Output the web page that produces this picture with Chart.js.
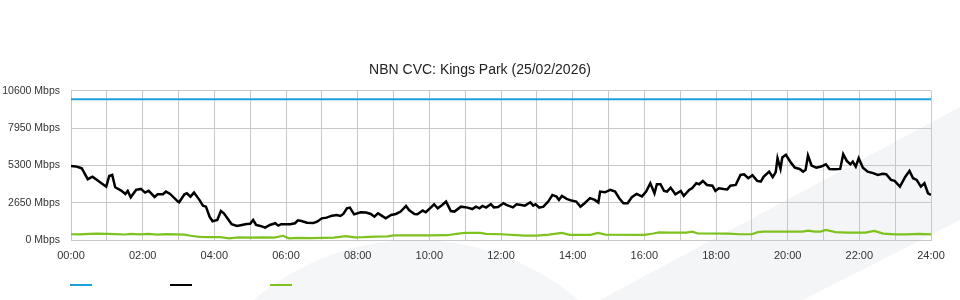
<!DOCTYPE html>
<html>
<head>
<meta charset="utf-8">
<script src="https://cdn.jsdelivr.net/npm/chart.js@4.4.1/dist/chart.umd.min.js"></script>
<style>
  html, body { margin: 0; padding: 0; background: #fff; }
  #wrap { position: relative; width: 960px; height: 300px; overflow: hidden; }
  #swoosh { position: absolute; left: 0; top: 0; width: 960px; height: 300px; background: #f4f5f7;
    clip-path: polygon(600px 300px, 960px 107px, 960px 220px, 803px 300px); }
  #blob { position: absolute; left: 166px; top: 240px; width: 500px; height: 500px; border-radius: 50%; background: #f5f6f8; }
  canvas { position: absolute; left: 0; top: 0; }
</style>
</head>
<body>
<div id="wrap">
  <div id="blob"></div>
  <div id="swoosh"></div>
  <canvas id="cvcChart" width="960" height="300"></canvas>
</div>
<script>
const chartTitle = 'NBN CVC: Kings Park (25/02/2026)';
const yTickValues = [0, 2650, 5300, 7950, 10600];
const xTickLabels = ['00:00', '02:00', '04:00', '06:00', '08:00', '10:00', '12:00',
  '14:00', '16:00', '18:00', '20:00', '22:00', '24:00'];

// minutes after midnight / Mbps
const capacityTimes = [0, 1440];
const capacityValues = [10000, 10000];

const trafficTimes = [0, 8, 14, 18, 28, 36, 47, 59, 64, 69, 74, 84, 91, 95, 100, 109, 117, 124, 130, 140,
  145, 154, 159, 166, 179, 181, 190, 194, 200, 206, 215, 221, 226, 232, 237, 245, 251, 256, 264, 269,
  278, 286, 294, 300, 305, 310, 317, 325, 333, 342, 347, 352, 367, 375, 380, 386, 395, 406, 412, 420,
  428, 437, 445, 451, 456, 462, 467, 474, 485, 494, 502, 508, 514, 520, 527, 536, 544, 552, 561, 566,
  575, 580, 589, 594, 601, 608, 614, 621, 628, 636, 642, 653, 664, 672, 678, 684, 689, 695, 703, 708,
  715, 724, 729, 740, 746, 754, 760, 769, 774, 778, 784, 791, 799, 806, 813, 817, 822, 830, 838, 846,
  853, 860, 869, 877, 883, 886, 894, 903, 911, 918, 925, 932, 939, 947, 956, 963, 970, 977, 981, 987,
  993, 998, 1004, 1012, 1021, 1026, 1035, 1040, 1047, 1052, 1058, 1065, 1074, 1079, 1085, 1093, 1099, 1104, 1113, 1121,
  1127, 1134, 1141, 1149, 1155, 1160, 1169, 1175, 1180, 1183, 1188, 1191, 1197, 1206, 1212, 1220, 1226, 1230, 1234, 1240,
  1248, 1256, 1264, 1270, 1279, 1288, 1293, 1299, 1305, 1309, 1314, 1319, 1326, 1334, 1343, 1351, 1359, 1365, 1373, 1379,
  1388, 1397, 1404, 1410, 1416, 1423, 1429, 1435, 1440];
const trafficValues = [5260, 5230, 5150, 5100, 4320, 4500, 4150, 3790, 4550, 4620, 3750, 3510, 3270, 3490, 3040, 3560, 3630, 3370, 3490, 3060,
  3250, 3250, 3440, 3270, 2730, 2680, 3250, 3320, 3080, 3370, 2850, 2440, 2370, 1660, 1330, 1420, 2060, 1900, 1420, 1120,
  1000, 1070, 1140, 1150, 1420, 1070, 1000, 880, 1070, 1190, 1020, 1120, 1120, 1190, 1400, 1350, 1230, 1210, 1300, 1540,
  1590, 1730, 1780, 1710, 1850, 2250, 2300, 1820, 1970, 1950, 1850, 1660, 1900, 1730, 1540, 1780, 1850, 2020, 2420, 2130,
  1850, 1830, 2090, 1970, 2250, 2540, 2250, 2470, 2730, 2060, 2020, 2370, 2300, 2200, 2370, 2250, 2420, 2300, 2540, 2320,
  2350, 2610, 2490, 2320, 2540, 2490, 2440, 2680, 2440, 2540, 2300, 2370, 2730, 3200, 3080, 2850, 3130, 2920, 2800, 2730,
  2370, 2610, 2970, 2850, 2660, 3440, 3390, 3560, 3440, 2970, 2610, 2610, 3040, 3270, 3100, 3440, 4030, 3320, 3960, 3960,
  3490, 3440, 3720, 3250, 3490, 3130, 3560, 3680, 4030, 3960, 4200, 3910, 3860, 3490, 3680, 3630, 3600, 3860, 3910, 4620,
  4670, 4390, 4600, 4200, 4150, 4500, 4860, 4460, 4820, 5810, 5050, 5860, 6050, 5460, 5140, 5050, 4860, 4980, 6000, 5290,
  5140, 5220, 5380, 5050, 5030, 5050, 6100, 5620, 5380, 5570, 5220, 5810, 5140, 4860, 4750, 4620, 4700, 4670, 4270, 4200,
  3790, 4500, 4910, 4390, 4270, 3790, 4030, 3320, 3200];

const otherTimes = [0, 15, 30, 45, 60, 75, 90, 100, 115, 130, 145, 160, 175, 190, 200, 215, 230, 250, 265, 280,
  300, 320, 340, 355, 365, 380, 400, 420, 440, 460, 475, 490, 510, 530, 540, 560, 600, 630, 645, 660,
  685, 695, 720, 760, 780, 800, 822, 835, 870, 882, 895, 960, 975, 985, 1000, 1030, 1040, 1050, 1100, 1120,
  1140, 1150, 1160, 1200, 1225, 1234, 1245, 1255, 1264, 1280, 1300, 1330, 1345, 1360, 1380, 1400, 1420, 1440];
const otherValues = [410, 400, 440, 450, 430, 420, 390, 440, 400, 430, 380, 420, 400, 380, 300, 220, 200, 200, 120, 180,
  170, 180, 170, 300, 120, 150, 140, 150, 170, 270, 190, 200, 240, 260, 330, 330, 330, 340, 430, 500,
  500, 430, 410, 310, 310, 380, 500, 360, 360, 500, 380, 370, 460, 546, 520, 520, 593, 460, 450, 410,
  410, 560, 593, 600, 600, 670, 600, 600, 711, 560, 520, 520, 640, 450, 405, 400, 430, 405];

const capacityColor = '#1ea0dc';
const trafficColor = '#000000';
const otherColor = '#7dc21e';

function toPoints(times, values) {
  return times.map((t, i) => ({ x: t, y: values[i] }));
}

// legend swatch: a 22px line sitting at the right end of a wider transparent image
function legendSwatch(color) {
  const c = document.createElement('canvas');
  c.width = 81;
  c.height = 2;
  const g = c.getContext('2d');
  g.fillStyle = color;
  g.fillRect(58, 0, 22, 2);
  return c;
}

Chart.defaults.font.family = '"Liberation Sans", Arial, Helvetica, sans-serif';
Chart.defaults.color = '#333';

const ctx = document.getElementById('cvcChart').getContext('2d');
new Chart(ctx, {
  type: 'line',
  data: {
    datasets: [{
      label: 'Capacity',
      data: toPoints(capacityTimes, capacityValues),
      borderColor: capacityColor,
      borderWidth: 2,
      pointRadius: 0
    }, {
      label: 'Traffic',
      data: toPoints(trafficTimes, trafficValues),
      borderColor: trafficColor,
      borderWidth: 2.5,
      pointRadius: 0
    }, {
      label: 'Other',
      data: toPoints(otherTimes, otherValues),
      borderColor: otherColor,
      borderWidth: 2.2,
      pointRadius: 0
    }]
  },
  options: {
    responsive: false,
    animation: false,
    devicePixelRatio: 1,
    layout: { padding: 0 },
    plugins: {
      title: {
        display: true,
        text: chartTitle,
        color: '#222',
        font: { size: 14, weight: 'normal' },
        padding: { top: 62, bottom: 12 }
      },
      legend: {
        position: 'bottom',
        align: 'start',
        labels: {
          usePointStyle: true,
          pointStyleWidth: 85,
          font: { size: 10 },
          padding: 10,
          generateLabels: chart => chart.data.datasets.map((ds, i) => ({
            text: '',
            datasetIndex: i,
            pointStyle: legendSwatch(ds.borderColor),
            fillStyle: ds.borderColor,
            strokeStyle: ds.borderColor,
            lineWidth: 0,
            hidden: false
          }))
        }
      },
      tooltip: { enabled: false }
    },
    scales: {
      x: {
        type: 'linear',
        min: 0,
        max: 1440,
        afterBuildTicks: s => { s.ticks = Array.from({ length: 25 }, (_, h) => ({ value: h * 60 })); },
        afterFit: s => { s.height = 30; s.paddingRight = 29; },
        grid: { color: '#c8c8c8', drawTicks: false },
        border: { color: '#c8c8c8' },
        ticks: {
          autoSkip: false,
          maxRotation: 0,
          padding: 9,
          font: { size: 11 },
          callback: v => (v % 120 === 0 ? xTickLabels[v / 120] : '')
        }
      },
      y: {
        min: 0,
        max: 10600,
        afterBuildTicks: s => { s.ticks = yTickValues.map(v => ({ value: v })); },
        afterFit: s => { s.width = 71; },
        grid: { color: '#c8c8c8', drawTicks: false },
        border: { color: '#c8c8c8' },
        ticks: {
          padding: 11,
          font: { size: 10.5 },
          callback: v => v + ' Mbps'
        }
      }
    }
  }
});
</script>
</body>
</html>
